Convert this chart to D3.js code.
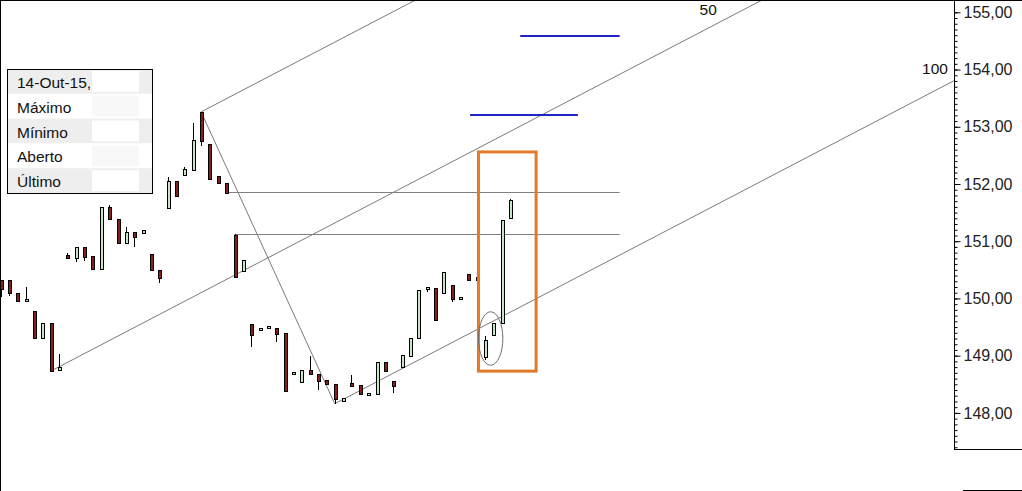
<!DOCTYPE html>
<html>
<head>
<meta charset="utf-8">
<script src="https://cdn.jsdelivr.net/npm/d3@7"></script>
<style>
  html, body { margin: 0; padding: 0; background: #fff; }
  svg { display: block; font-family: "Liberation Sans", Arial, sans-serif; }
</style>
</head>
<body>
<svg id="chart" width="1022" height="491"></svg>
<script>
// ---- data ----
const opens  = [150.32,150.32,150.10,149.96,149.78,149.31,149.57,148.75,150.76,150.71,150.90,150.74,150.52,151.60,151.39,150.97,151.16,151.14,150.78,150.50,151.58,152.05,152.16,152.24,153.26,152.70,152.14,152.02,151.11,150.48,149.56,149.45,149.49,149.49,149.40,148.68,148.54,148.75,148.68,148.58,148.50,148.21,148.52,148.49,148.31,148.33,148.89,148.56,148.80,148.99,149.31,150.17,150.18,150.10,150.24,149.99,150.43,150.38,148.98,149.36,149.57,151.41];
const highs  = [150.32,150.32,150.10,150.20,149.78,149.57,149.57,149.03,150.79,150.90,150.90,150.74,151.60,151.63,151.39,151.25,151.16,151.20,150.78,150.50,152.12,152.05,152.30,153.07,153.26,152.70,152.14,152.02,151.13,150.67,149.56,149.49,149.52,149.49,149.40,148.71,148.75,148.99,148.68,148.58,148.50,148.26,148.66,148.49,148.35,148.89,148.89,148.56,149.01,149.31,150.15,150.20,150.18,150.46,150.24,150.03,150.43,150.38,149.35,149.57,151.37,151.74];
const lows   = [150.03,150.04,149.94,149.96,149.31,149.31,148.73,148.75,150.71,150.64,150.66,150.52,150.52,151.39,150.97,150.97,150.90,151.14,150.50,150.27,151.58,151.79,152.16,152.24,152.66,152.09,152.02,151.84,150.38,150.48,149.15,149.45,149.49,149.24,148.38,148.68,148.54,148.68,148.40,148.50,148.16,148.21,148.46,148.33,148.31,148.33,148.73,148.35,148.80,148.99,149.31,150.11,149.62,150.10,149.94,149.99,150.32,150.32,148.92,149.36,149.57,151.41];
const closes = [150.17,150.10,149.96,149.99,149.31,149.57,148.73,148.80,150.71,150.90,150.72,150.52,151.60,151.39,150.97,151.16,151.07,151.20,150.50,150.36,152.05,151.79,152.26,152.77,152.75,152.09,152.02,151.84,150.38,150.67,149.36,149.49,149.52,149.38,148.38,148.71,148.75,148.68,148.56,148.50,148.24,148.26,148.47,148.33,148.35,148.89,148.73,148.47,149.01,149.31,150.15,150.20,149.62,150.46,149.99,150.03,150.32,150.32,149.27,149.57,151.37,151.72];

const priceTicks = [148, 149, 150, 151, 152, 153, 154, 155];
const legendLabels = ["14-Out-15,", "Máximo", "Mínimo", "Aberto", "Último"];

// pitchfork pivots [index, price]
const pivotA = [6, 148.73];
const pivotB = [24, 153.26];
const pivotC = [40, 148.16];
const forkLabels = [{text: "50", i: 84.7, p: 155.05, anchor: "middle"}, {text: "100", i: 113.4, p: 154.01, anchor: "end"}];

// gap lines (grey) and target lines (blue): [i0, i1, price]
const gapLines = [[27, 74.1, 151.86], [28, 74.1, 151.13]];
const blueLines = [[62.2, 74.1, 154.58], [56.2, 69.1, 153.20]];
// orange highlight box [i0, i1, pTop, pBottom]
const highlightBox = [57.2, 64.1, 152.56, 148.73];
// ellipse [ci, cp, ri, rp]
const ellipseMark = [58.66, 149.30, 1.46, 0.467];

// ---- drawing ----
const W = 1022, H = 491, axisX = 954;
const svg = d3.select("#chart");

const x = d3.scaleLinear().domain([0, 61]).range([0.6, 510.2]);
const y = d3.scaleLinear().domain([148, 155]).range([412.9, 12.3]);

svg.append("rect").attr("width", W).attr("height", H).attr("fill", "#fff");

svg.append("defs").append("clipPath").attr("id", "plotClip")
  .append("rect").attr("x", 1).attr("y", 1).attr("width", axisX - 1).attr("height", H - 1);

const plot = svg.append("g").attr("clip-path", "url(#plotClip)");

// pitchfork
const mid = [(pivotB[0] + pivotC[0]) / 2, (pivotB[1] + pivotC[1]) / 2];
const slope = (mid[1] - pivotA[1]) / (mid[0] - pivotA[0]);
const farI = 130;
const ext = (p) => [p, [farI, p[1] + slope * (farI - p[0])]];
const forkSegs = [
  ext(pivotA),
  ext(pivotB),
  ext(pivotC),
  [pivotB, pivotC]
];
plot.selectAll("line.fork").data(forkSegs).join("line")
  .attr("class", "fork")
  .attr("x1", d => x(d[0][0])).attr("y1", d => y(d[0][1]))
  .attr("x2", d => x(d[1][0])).attr("y2", d => y(d[1][1]))
  .attr("stroke", "#7a7a7a").attr("stroke-width", 1);

plot.selectAll("line.gap").data(gapLines).join("line")
  .attr("class", "gap")
  .attr("x1", d => x(d[0])).attr("x2", d => x(d[1]))
  .attr("y1", d => Math.round(y(d[2])) + 0.5).attr("y2", d => Math.round(y(d[2])) + 0.5)
  .attr("stroke", "#808080").attr("stroke-width", 1);

plot.selectAll("line.blue").data(blueLines).join("line")
  .attr("class", "blue")
  .attr("x1", d => x(d[0])).attr("x2", d => x(d[1]))
  .attr("y1", d => Math.round(y(d[2]))).attr("y2", d => Math.round(y(d[2])))
  .attr("stroke", "#1f24c4").attr("stroke-width", 2);

// candles
const idx = d3.range(opens.length);
const cx = i => Math.round(x(i));
const cg = plot.append("g");
cg.selectAll("line.wick").data(idx).join("line")
  .attr("class", "wick")
  .attr("x1", i => cx(i) + 0.5).attr("x2", i => cx(i) + 0.5)
  .attr("y1", i => Math.round(y(highs[i]))).attr("y2", i => Math.round(y(lows[i])))
  .attr("stroke", "#000").attr("stroke-width", 1);
cg.selectAll("rect.body").data(idx).join("rect")
  .attr("class", "body")
  .attr("x", i => cx(i) - 1 + 0.5)
  .attr("width", 3)
  .attr("y", i => Math.round(y(Math.max(opens[i], closes[i]))) + 0.5)
  .attr("height", i => Math.max(2, Math.round(y(Math.min(opens[i], closes[i]))) - Math.round(y(Math.max(opens[i], closes[i])))))
  .attr("fill", i => closes[i] >= opens[i] ? "#c4e8c4" : "#8a1c1c")
  .attr("stroke", "#000").attr("stroke-width", 1);

// orange box
plot.append("rect")
  .attr("x", x(highlightBox[0])).attr("y", y(highlightBox[2]))
  .attr("width", x(highlightBox[1]) - x(highlightBox[0]))
  .attr("height", y(highlightBox[3]) - y(highlightBox[2]))
  .attr("fill", "none").attr("stroke", "#e27a2c").attr("stroke-width", 3);

// ellipse
plot.append("ellipse")
  .attr("cx", x(ellipseMark[0])).attr("cy", y(ellipseMark[1]))
  .attr("rx", x(ellipseMark[2]) - x(0)).attr("ry", y(0) - y(ellipseMark[3]))
  .attr("fill", "none").attr("stroke", "#6e6e6e").attr("stroke-width", 1);

// fork labels
svg.selectAll("text.fork").data(forkLabels).join("text")
  .attr("class", "fork")
  .attr("x", d => x(d.i)).attr("y", d => y(d.p)).attr("dy", "0.35em")
  .attr("text-anchor", d => d.anchor)
  .attr("font-size", 15.5).attr("fill", "#111")
  .text(d => d.text);

// legend box
const lg = svg.append("g");
const lx = 7, ly = 69, lw = 145, rowH = 24.8;
lg.selectAll("rect.row").data(legendLabels).join("rect")
  .attr("class", "row")
  .attr("x", lx).attr("y", (d, i) => ly + i * rowH)
  .attr("width", lw).attr("height", rowH)
  .attr("fill", (d, i) => i % 2 === 0 ? "#eeeeee" : "#ffffff");
lg.selectAll("rect.cell").data(legendLabels).join("rect")
  .attr("class", "cell")
  .attr("x", 92).attr("y", (d, i) => ly + i * rowH + 2)
  .attr("width", 47).attr("height", rowH - 4)
  .attr("fill", (d, i) => i % 2 === 0 ? "#ffffff" : "#f8f8f8");
lg.append("rect").attr("x", lx + 0.5).attr("y", ly + 0.5).attr("width", lw).attr("height", rowH * 5)
  .attr("fill", "none").attr("stroke", "#000").attr("stroke-width", 1);
lg.selectAll("text").data(legendLabels).join("text")
  .attr("x", 17).attr("y", (d, i) => ly + i * rowH + 19)
  .attr("font-size", 15.5).attr("fill", "#111")
  .text(d => d);

// price axis
const minor = d3.range(1474, 1551).map(v => v / 10);
const axMinor = d3.axisRight(y).tickValues(minor).tickSize(3).tickFormat("");
svg.append("g").attr("transform", `translate(${axisX + 0.5},0)`).call(axMinor)
  .call(g => g.select(".domain").remove())
  .selectAll("line").attr("stroke", "#000");
const axMajor = d3.axisRight(y).tickValues(priceTicks).tickSize(6).tickPadding(3)
  .tickFormat(d => d.toFixed(2).replace(".", ","));
const gMaj = svg.append("g").attr("transform", `translate(${axisX + 0.5},0)`).call(axMajor);
gMaj.select(".domain").remove();
gMaj.selectAll("line").attr("stroke", "#000");
gMaj.selectAll("text").attr("font-size", 16).attr("fill", "#222")
  .attr("font-family", "'Liberation Sans', Arial, sans-serif");

// frame lines
svg.append("line").attr("x1", axisX + 0.5).attr("x2", axisX + 0.5).attr("y1", 0).attr("y2", 449).attr("stroke", "#000");
svg.append("line").attr("x1", axisX).attr("x2", W).attr("y1", 449.5).attr("y2", 449.5).attr("stroke", "#000");
svg.append("line").attr("x1", 963).attr("x2", W).attr("y1", 490.5).attr("y2", 490.5).attr("stroke", "#000");
svg.append("line").attr("x1", 0).attr("x2", W).attr("y1", 0.5).attr("y2", 0.5).attr("stroke", "#000");
svg.append("line").attr("x1", 0.5).attr("x2", 0.5).attr("y1", 0).attr("y2", H).attr("stroke", "#000");
</script>
</body>
</html>
